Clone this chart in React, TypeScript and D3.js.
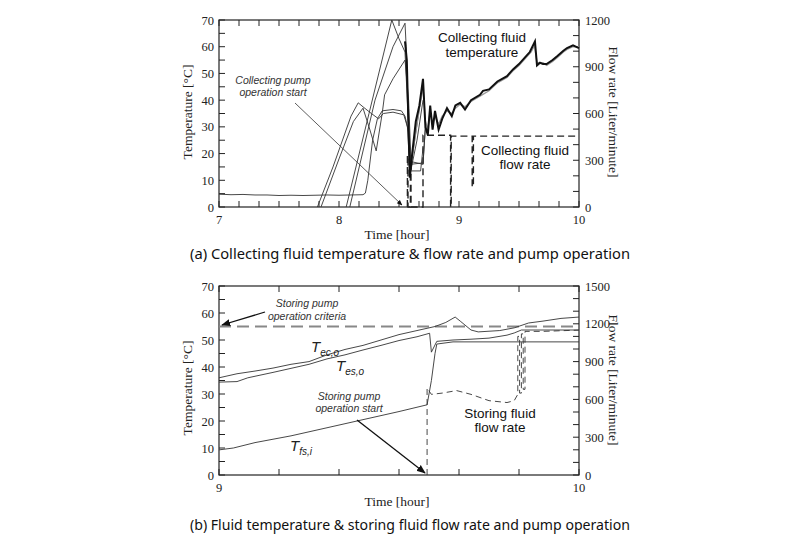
import React from "react";
import * as d3 from "d3";

// ---------- Data: chart (a) ----------
const aXTicks = [7, 8, 9, 10];
const aTempTicks = [0, 10, 20, 30, 40, 50, 60, 70];
const aFlowTicks = [0, 300, 600, 900, 1200];

const aIdleSensor: [number, number][] = [
  [7.0, 4.8], [7.1, 4.6], [7.2, 4.7], [7.3, 4.5], [7.4, 4.5], [7.5, 4.3], [7.6, 4.4],
  [7.7, 4.3], [7.8, 4.4], [7.9, 4.5], [8.0, 4.4], [8.1, 4.5], [8.2, 4.6], [8.22, 5.2],
  [8.24, 10], [8.28, 25], [8.32, 33], [8.36, 36], [8.45, 36.5], [8.52, 36], [8.55, 34],
  [8.58, 28], [8.6, 16], [8.7, 16.5], [8.72, 30],
];
const aSensor1: [number, number][] = [
  [7.82, 0], [7.95, 15], [8.1, 34], [8.16, 39], [8.2, 37.5], [8.27, 35], [8.33, 33],
  [8.37, 35], [8.45, 35.5], [8.54, 34.5], [8.57, 30], [8.59, 15], [8.6, 13.5], [8.68, 13.5], [8.7, 22],
];
const aSensor2: [number, number][] = [
  [7.85, 0], [8.0, 18], [8.12, 32], [8.2, 37], [8.25, 30], [8.31, 21], [8.36, 35],
  [8.38, 42], [8.45, 48], [8.55, 55], [8.58, 40], [8.6, 17], [8.7, 16], [8.72, 30],
];
const aSensor3: [number, number][] = [
  [8.06, 0], [8.25, 35], [8.44, 70], [8.5, 63], [8.55, 58], [8.58, 30], [8.6, 14], [8.65, 25], [8.7, 40],
];
const aSensor4: [number, number][] = [
  [8.09, 0], [8.3, 40], [8.45, 60], [8.55, 68.8], [8.56, 60], [8.59, 12], [8.64, 28], [8.7, 46],
];
const aMainTemp: [number, number][] = [
  [8.55, 62], [8.565, 55], [8.59, 11], [8.61, 20], [8.64, 32], [8.67, 38], [8.7, 48],
  [8.72, 30], [8.74, 27], [8.76, 38], [8.78, 29], [8.8, 36], [8.83, 29], [8.86, 33],
  [8.9, 37], [8.94, 34], [8.97, 38], [9.01, 39], [9.05, 36.5], [9.1, 40], [9.175, 42],
  [9.2, 43.5], [9.25, 44], [9.32, 47], [9.4, 49], [9.45, 51.5], [9.5, 53.5], [9.55, 56],
  [9.59, 58], [9.633, 62], [9.65, 53], [9.675, 54], [9.7, 53.5], [9.73, 53.5], [9.78, 55],
  [9.82, 56.5], [9.87, 58.5], [9.9, 59.5], [9.95, 60.5], [10, 59.5],
];
const aMainTempGray: [number, number][] = [
  [8.59, 13], [8.62, 22], [8.66, 34], [8.7, 45], [8.72, 32], [8.74, 29], [8.76, 36],
  [8.78, 31], [8.8, 34], [8.83, 31], [8.86, 34], [8.9, 36], [8.94, 35], [8.97, 37],
  [9.01, 38.5], [9.05, 37.5], [9.1, 39.5], [9.175, 41.5], [9.25, 43.5], [9.32, 46.5],
  [9.4, 48.5], [9.45, 51], [9.5, 53], [9.55, 55.5], [9.6, 58], [9.63, 60.5], [9.65, 54],
  [9.7, 54], [9.73, 53], [9.78, 54.5], [9.82, 56], [9.87, 58], [9.9, 59], [9.95, 60], [10, 60],
];
const aFlow: [number, number][] = [
  [8.57, 0], [8.57, 330], [8.575, 330], [8.575, 0], [8.595, 0], [8.595, 330],
  [8.6, 330], [8.6, 0], [8.7, 0], [8.7, 460], [8.93, 460], [8.93, 0], [8.935, 0],
  [8.935, 455], [9.11, 455], [9.11, 130], [9.12, 130], [9.12, 455], [10, 455],
];

// ---------- Data: chart (b) ----------
const bXTicks = [9, 10];
const bTempTicks = [0, 10, 20, 30, 40, 50, 60, 70];
const bFlowTicks = [0, 300, 600, 900, 1200, 1500];
const bCriteria = 55;

const bTecO: [number, number][] = [
  [9.0, 36], [9.05, 37.5], [9.1, 38.5], [9.15, 39.6], [9.2, 41], [9.25, 42], [9.3, 44.5],
  [9.35, 46.5], [9.4, 48], [9.45, 50], [9.5, 52], [9.55, 53.5], [9.6, 55], [9.63, 56.5],
  [9.656, 58.5], [9.67, 57], [9.7, 53.7], [9.72, 53], [9.78, 53.5], [9.82, 54.5],
  [9.86, 56.3], [9.9, 57], [9.95, 58], [10, 58.5],
];
const bTesO: [number, number][] = [
  [9.0, 34.4], [9.05, 34.6], [9.08, 36], [9.15, 38], [9.2, 39.5], [9.25, 41], [9.3, 43],
  [9.35, 44.5], [9.4, 46.3], [9.45, 48], [9.5, 49.8], [9.55, 51.2], [9.585, 52.5],
  [9.59, 45.5], [9.605, 49.5], [9.65, 50], [9.7, 50.3], [9.75, 50.7], [9.8, 51.8],
  [9.82, 52.6], [9.84, 53.7], [9.9, 53.7], [10, 53.7],
];
const bTfsI: [number, number][] = [
  [9.0, 9.3], [9.04, 10], [9.1, 12], [9.2, 14.5], [9.3, 17.5], [9.4, 20.5], [9.5, 23.5],
  [9.578, 26], [9.59, 35], [9.6, 45], [9.605, 48.5], [9.65, 49.3], [9.8, 49.3], [10, 49.3],
];
const bFlow: [number, number][] = [
  [9.578, 0], [9.578, 690], [9.59, 640], [9.62, 650], [9.66, 670], [9.7, 640],
  [9.75, 590], [9.8, 575], [9.82, 590], [9.83, 640], [9.83, 1100], [9.835, 1100],
  [9.835, 650], [9.84, 650], [9.84, 1120], [9.845, 1120], [9.845, 680], [9.85, 680],
  [9.85, 1140], [9.9, 1140], [10, 1150],
];

type Pt = [number, number];

function Frame(props: {
  x: d3.ScaleLinear<number, number>;
  yL: d3.ScaleLinear<number, number>;
  yR: d3.ScaleLinear<number, number>;
  xTicks: number[];
  xMinorStep: number;
  yLTicks: number[];
  yLMinorStep: number;
  yRTicks: number[];
  yRMinorStep: number;
}) {
  const { x, yL, yR } = props;
  const [x0, x1] = x.range();
  const [yb, yt] = yL.range();
  const xd = x.domain();
  const xMinor = d3.range(xd[0], xd[1] + 1e-9, props.xMinorStep);
  const ld = yL.domain();
  const lMinor = d3.range(ld[0], ld[1] + 1e-9, props.yLMinorStep);
  const rd = yR.domain();
  const rMinor = d3.range(rd[0], rd[1] + 1e-9, props.yRMinorStep);
  const st = { stroke: "#222", strokeWidth: 1 };
  return (
    <g>
      <rect x={x0} y={yt} width={x1 - x0} height={yb - yt} fill="none" stroke="#222" strokeWidth={1.2} />
      {xMinor.map((v, i) => (
        <g key={"xm" + i}>
          <line x1={x(v)} x2={x(v)} y1={yb} y2={yb - 6} {...st} />
          <line x1={x(v)} x2={x(v)} y1={yt} y2={yt + 6} {...st} />
        </g>
      ))}
      {lMinor.map((v, i) => (
        <line key={"lm" + i} x1={x0} x2={x0 + 6} y1={yL(v)} y2={yL(v)} {...st} />
      ))}
      {rMinor.map((v, i) => (
        <line key={"rm" + i} x1={x1} x2={x1 - 6} y1={yR(v)} y2={yR(v)} {...st} />
      ))}
      {props.xTicks.map((v) => (
        <text key={"xt" + v} x={x(v)} y={yb + 17} textAnchor="middle" fontFamily="Liberation Serif" fontSize={12.5} fill="#222">
          {v}
        </text>
      ))}
      {props.yLTicks.map((v) => (
        <text key={"yl" + v} x={x0 - 5} y={yL(v) + 4.5} textAnchor="end" fontFamily="Liberation Serif" fontSize={12.5} fill="#222">
          {v}
        </text>
      ))}
      {props.yRTicks.map((v) => (
        <text key={"yr" + v} x={x1 + 6} y={yR(v) + 4.5} textAnchor="start" fontFamily="Liberation Serif" fontSize={12.5} fill="#222">
          {v}
        </text>
      ))}
    </g>
  );
}

function Sub(props: { x: number; y: number; sub: string }) {
  return (
    <text x={props.x} y={props.y} fontFamily="Liberation Sans" fontStyle="italic" fontSize={15} fill="#222">
      T
      <tspan fontSize={10} dy={4}>{props.sub}</tspan>
    </text>
  );
}

export default function App() {
  // chart (a)
  const ax = d3.scaleLinear().domain([7, 10]).range([219, 579]);
  const ayT = d3.scaleLinear().domain([0, 70]).range([207, 20]);
  const ayF = d3.scaleLinear().domain([0, 1200]).range([207, 20]);
  const aLine = d3.line<Pt>().x((d) => ax(d[0])).y((d) => ayT(d[1]));
  const aFlowLine = d3.line<Pt>().x((d) => ax(d[0])).y((d) => ayF(d[1]));

  // chart (b)
  const bx = d3.scaleLinear().domain([9, 10]).range([219, 579]);
  const byT = d3.scaleLinear().domain([0, 70]).range([475, 286]);
  const byF = d3.scaleLinear().domain([0, 1500]).range([475, 286]);
  const bLine = d3.line<Pt>().x((d) => bx(d[0])).y((d) => byT(d[1]));
  const bFlowLine = d3.line<Pt>().x((d) => bx(d[0])).y((d) => byF(d[1]));

  const thin = { fill: "none", stroke: "#333", strokeWidth: 0.9 };
  const italic = { fontFamily: "Liberation Sans", fontStyle: "italic", fontSize: 10.5, fill: "#333" } as const;
  const label = { fontFamily: "Liberation Sans", fontSize: 13.5, fill: "#111" } as const;

  return (
    <svg width={800} height={543} style={{ position: "absolute", left: 0, top: 0, background: "#fff" }}>
      <defs>
        <marker id="arr" viewBox="0 0 10 10" refX="9" refY="5" markerWidth="7" markerHeight="7" orient="auto">
          <path d="M0,1 L10,5 L0,9 z" fill="#111" />
        </marker>
      </defs>
      <rect width={800} height={543} fill="#fff" />

      {/* ---------- Chart (a) ---------- */}
      <Frame x={ax} yL={ayT} yR={ayF} xTicks={aXTicks} xMinorStep={1 / 6} yLTicks={aTempTicks} yLMinorStep={5} yRTicks={aFlowTicks} yRMinorStep={100} />
      <path d={aFlowLine(aFlow) || ""} fill="none" stroke="#222" strokeWidth={1.4} strokeDasharray="7,4" />
      <path d={aLine(aIdleSensor) || ""} {...thin} />
      <path d={aLine(aSensor1) || ""} {...thin} />
      <path d={aLine(aSensor2) || ""} {...thin} />
      <path d={aLine(aSensor3) || ""} {...thin} />
      <path d={aLine(aSensor4) || ""} {...thin} />
      <path d={aLine(aMainTempGray) || ""} fill="none" stroke="#999" strokeWidth={1.4} />
      <path d={aLine(aMainTemp) || ""} fill="none" stroke="#111" strokeWidth={2} />
      <text x={273} y={84} textAnchor="middle" {...italic}>Collecting pump</text>
      <text x={273} y={96} textAnchor="middle" {...italic}>operation start</text>
      <line x1={295} y1={103} x2={402} y2={205} stroke="#333" strokeWidth={0.8} markerEnd="url(#arr)" />
      <text x={482} y={42} textAnchor="middle" {...label}>Collecting fluid</text>
      <text x={482} y={57} textAnchor="middle" {...label}>temperature</text>
      <text x={525} y={155} textAnchor="middle" {...label}>Collecting fluid</text>
      <text x={525} y={169} textAnchor="middle" {...label}>flow rate</text>
      <text transform="translate(192,112) rotate(-90)" textAnchor="middle" fontFamily="Liberation Serif" fontSize={13.5} fill="#222">Temperature [°C]</text>
      <text transform="translate(609,112) rotate(90)" textAnchor="middle" fontFamily="Liberation Serif" fontSize={13.5} fill="#222">Flow rate [Liter/minute]</text>
      <text x={397} y={239} textAnchor="middle" fontFamily="Liberation Serif" fontSize={13.5} fill="#222">Time [hour]</text>
      <text x={410} y={259} textAnchor="middle" fontFamily="Noto Sans" fontSize={15} fill="#111" textLength={440} lengthAdjust="spacingAndGlyphs">(a) Collecting fluid temperature &amp; flow rate and pump operation</text>

      {/* ---------- Chart (b) ---------- */}
      <Frame x={bx} yL={byT} yR={byF} xTicks={bXTicks} xMinorStep={1 / 6} yLTicks={bTempTicks} yLMinorStep={5} yRTicks={bFlowTicks} yRMinorStep={100} />
      <line x1={bx(9)} x2={bx(10)} y1={byT(bCriteria)} y2={byT(bCriteria)} stroke="#888" strokeWidth={2} strokeDasharray="12,6" />
      <path d={bFlowLine(bFlow) || ""} fill="none" stroke="#333" strokeWidth={0.9} strokeDasharray="6,4" />
      <path d={bLine(bTecO) || ""} {...thin} />
      <path d={bLine(bTesO) || ""} {...thin} />
      <path d={bLine(bTfsI) || ""} {...thin} />
      <text x={307} y={307} textAnchor="middle" {...italic}>Storing pump</text>
      <text x={307} y={320} textAnchor="middle" {...italic}>operation criteria</text>
      <line x1={265} y1={312} x2={222} y2={325} stroke="#111" strokeWidth={1.3} markerEnd="url(#arr)" />
      <Sub x={311} y={352} sub="ec,o" />
      <Sub x={336} y={371} sub="es,o" />
      <Sub x={290} y={451} sub="fs,i" />
      <text x={349} y={400} textAnchor="middle" {...italic}>Storing pump</text>
      <text x={349} y={412} textAnchor="middle" {...italic}>operation start</text>
      <line x1={357} y1={420} x2={425} y2={473} stroke="#111" strokeWidth={1.3} markerEnd="url(#arr)" />
      <text x={500} y={418} textAnchor="middle" {...label}>Storing fluid</text>
      <text x={500} y={432} textAnchor="middle" {...label}>flow rate</text>
      <text transform="translate(192,388) rotate(-90)" textAnchor="middle" fontFamily="Liberation Serif" fontSize={13.5} fill="#222">Temperature [°C]</text>
      <text transform="translate(609,380) rotate(90)" textAnchor="middle" fontFamily="Liberation Serif" fontSize={13.5} fill="#222">Flow rate [Liter/minute]</text>
      <text x={397} y={506} textAnchor="middle" fontFamily="Liberation Serif" fontSize={13.5} fill="#222">Time [hour]</text>
      <text x={410} y={530} textAnchor="middle" fontFamily="Noto Sans" fontSize={15} fill="#111" textLength={440} lengthAdjust="spacingAndGlyphs">(b) Fluid temperature &amp; storing fluid flow rate and pump operation</text>
    </svg>
  );
}
